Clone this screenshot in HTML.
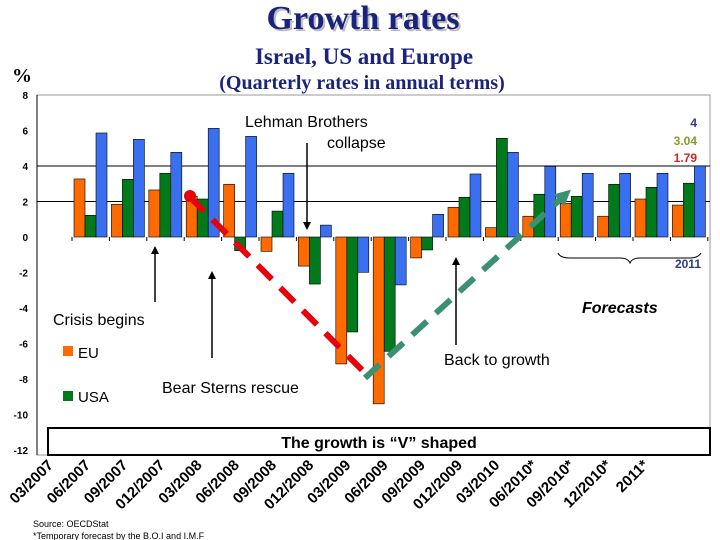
<!DOCTYPE html>
<html><head><meta charset="utf-8"><style>
body{margin:0;background:#fff;}
svg{display:block;font-family:"Liberation Sans",sans-serif;}
</style></head><body>
<svg id="c" width="720" height="540" viewBox="0 0 720 540">
<defs>
<marker id="ah" markerWidth="8" markerHeight="8" refX="4" refY="4" orient="auto" markerUnits="userSpaceOnUse"><path d="M0,0 L8,4 L0,8 z" fill="#000"/></marker>
<marker id="gh" markerWidth="16" markerHeight="16" refX="8" refY="8" orient="auto" markerUnits="userSpaceOnUse"><path d="M0,0 L16,8 L0,16 z" fill="#3a9070"/></marker>
</defs>
<g font-family="Liberation Serif,serif" font-weight="bold" fill="#1a237e" text-anchor="middle">
<text x="365" y="31" font-size="34" fill="#bbb">Growth rates</text>
<text x="363" y="29" font-size="34">Growth rates</text>
<text x="364" y="64" font-size="23">Israel, US and Europe</text>
<text x="362" y="89" font-size="20">(Quarterly rates in annual terms)</text>
<text x="22" y="82" font-size="20" fill="#000">%</text>
</g>
<rect x="37" y="95" width="673" height="360" fill="none" stroke="#999"/>
<g id="grid"></g><g id="bars"></g><g id="yt"></g><g id="xt"></g>
<line x1="37" y1="95" x2="37" y2="455" stroke="#000"/>
<line x1="190" y1="197" x2="370" y2="378" stroke="#e8000b" stroke-width="6" stroke-dasharray="20,12"/>
<circle cx="190" cy="196" r="6" fill="#e8000b"/>
<line x1="365" y1="378" x2="565" y2="195" stroke="#3a9070" stroke-width="6" stroke-dasharray="20,12" marker-end="url(#gh)"/>
<g stroke="#000" stroke-width="1.5">
<line x1="155" y1="302" x2="155" y2="250" marker-end="url(#ah)"/>
<line x1="212" y1="358" x2="212" y2="275" marker-end="url(#ah)"/>
<line x1="307" y1="143" x2="307" y2="226" marker-end="url(#ah)"/>
<line x1="456" y1="345" x2="456" y2="261" marker-end="url(#ah)"/>
</g>
<g font-size="16" fill="#000">
<text x="245" y="127">Lehman Brothers</text>
<text x="327" y="148">collapse</text>
<text x="53" y="325">Crisis begins</text>
<text x="162" y="393">Bear Sterns rescue</text>
<text x="444" y="365">Back to growth</text>
<text x="582" y="313" font-weight="bold" font-style="italic">Forecasts</text>
</g>
<g font-size="12" font-weight="bold" text-anchor="end">
<text x="697" y="127" fill="#2e3a8c">4</text>
<text x="697" y="145" fill="#8a9a2a">3.04</text>
<text x="697" y="162" fill="#c62828">1.79</text>
<text x="701" y="268" fill="#2e3a8c">2011</text>
</g>
<path d="M558,253 Q560,258 570,258 L620,258 Q628,258 630,263 Q632,258 640,258 L690,258 Q698,258 701,253" fill="none" stroke="#000"/>
<rect x="63" y="346" width="10" height="10" fill="#ff6a00"/>
<text x="78" y="358" font-size="15">EU</text>
<rect x="63" y="391" width="10" height="10" fill="#007a1a"/>
<text x="78" y="402" font-size="15">USA</text>
<rect x="48" y="428" width="662" height="27" fill="#fff" stroke="#000" stroke-width="2"/>
<text x="379" y="448" font-size="16" font-weight="bold" text-anchor="middle">The growth is “V” shaped</text>
<text x="33" y="527" font-size="9">Source: OECDStat</text>
<text x="33" y="539" font-size="9">*Temporary forecast by the B.O.I and I.M.F</text>
</svg>
<script>
const categories=["03/2007","06/2007","09/2007","012/2007","03/2008","06/2008","09/2008","012/2008","03/2009","06/2009","09/2009","012/2009","03/2010","06/2010*","09/2010*","12/2010*","2011*"];
const euValues=[3.27,1.84,2.65,2.3,2.97,-0.81,-1.64,-7.15,-9.4,-1.18,1.67,0.53,1.17,1.9,1.17,2.14,1.8];
const usaValues=[1.22,3.25,3.59,2.14,-0.77,1.46,-2.65,-5.35,-6.44,-0.73,2.24,5.56,2.41,2.29,2.97,2.8,3.03];
const israelValues=[5.86,5.5,4.77,6.12,5.67,3.59,0.67,-1.99,-2.7,1.28,3.55,4.77,3.98,3.59,3.59,3.59,4.0];
const yTicks=[8,6,4,2,0,-2,-4,-6,-8,-10,-12];
const NS="http://www.w3.org/2000/svg";
const y=v=>237-v*17.75;
const x=i=>74+i*37.4;
function mk(t,a,p){const e=document.createElementNS(NS,t);for(const k in a)e.setAttribute(k,a[k]);document.getElementById(p).appendChild(e);return e;}
[4,2].forEach(v=>{const l=mk('line',{x1:37,x2:710,y1:y(v),y2:y(v),stroke:'#000'},'grid');

});
yTicks.forEach(v=>{const t=mk('text',{x:28,y:y(v)+4,'font-size':10,'font-weight':'bold','text-anchor':'end'},'yt');t.textContent=v;

});
for(let i=0;i<=17;i++){const l=mk('line',{x1:x(i)-2,x2:x(i)-2,y1:237,y2:241,stroke:'#000'},'grid');

}
const series=[[euValues,'#ff6a00','eu'],[usaValues,'#007a1a','usa'],[israelValues,'#3a6ff0','israel']];
categories.forEach((c,i)=>{
series.forEach((s,j)=>{const v=s[0][i];const b=mk('rect',{x:x(i)+j*11,width:11,y:Math.min(y(v),y(0)),height:Math.abs(y(v)-y(0)),fill:s[1],stroke:'#000','stroke-width':0.6},'bars');

});
const ex=54+i*37.2,ey=466;
const t=mk('text',{x:ex,y:ey,'font-size':15,'font-weight':'bold','text-anchor':'end',transform:`rotate(-45 ${ex} ${ey})`},'xt');t.textContent=c;


});
</script>
</body></html>
